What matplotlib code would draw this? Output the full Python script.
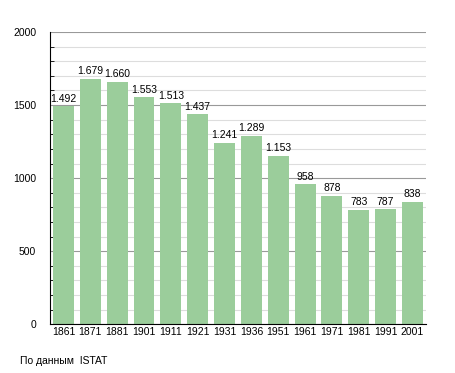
import numpy as np
import matplotlib.pyplot as plt
from matplotlib.ticker import MultipleLocator

years = ["1861", "1871", "1881", "1901", "1911", "1921", "1931", "1936",
         "1951", "1961", "1971", "1981", "1991", "2001"]
population = [1492, 1679, 1660, 1553, 1513, 1437, 1241, 1289,
              1153, 958, 878, 783, 787, 838]

plt.rcParams["font.family"] = ["Liberation Sans", "DejaVu Sans"]

fig = plt.figure(figsize=(4.55, 3.73), dpi=100)
ax = fig.add_axes([0.110, 0.131, 0.826, 0.783])

x = np.arange(len(years))
ax.bar(x, population, width=0.78, color="#9bcd9b", zorder=3)

for xi, v in zip(x, population):
    lbl = f"{v:,}".replace(",", ".")
    ax.text(xi, v + 18, lbl, ha="center", va="bottom", fontsize=7.5, zorder=4)

ax.set_xlim(-0.5, len(years) - 0.5)
ax.set_ylim(0, 2000)
ax.set_xticks(x)
ax.set_xticklabels(years, fontsize=7.5)
ax.yaxis.set_major_locator(MultipleLocator(500))
ax.yaxis.set_minor_locator(MultipleLocator(100))
ax.tick_params(axis="y", which="major", labelsize=7.5, length=0, pad=10)
ax.tick_params(axis="y", which="minor", direction="in", length=3, color="black")
ax.tick_params(axis="x", length=0, pad=2)

ax.grid(axis="y", which="major", color="#999999", linewidth=0.8, zorder=1)
ax.grid(axis="y", which="minor", color="#dddddd", linewidth=0.8, zorder=1)

for s in ["top", "right"]:
    ax.spines[s].set_visible(False)
ax.spines["left"].set_color("black")
ax.spines["bottom"].set_color("black")
ax.spines["left"].set_zorder(5)
ax.spines["bottom"].set_zorder(5)

fig.text(20 / 455, 1 - 361 / 373, "По данным  ISTAT", fontsize=7.5, va="center")

fig.savefig("out.png", dpi=100)
